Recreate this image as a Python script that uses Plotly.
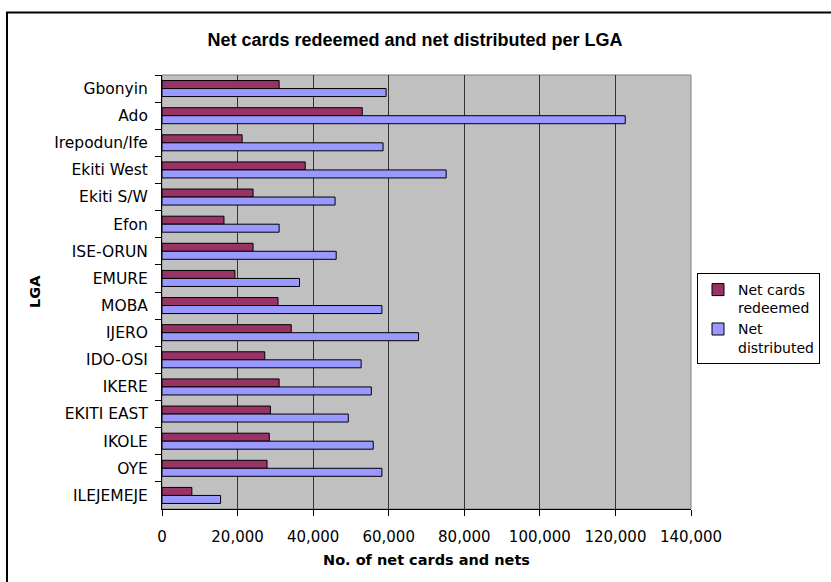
import plotly.graph_objects as go

# LGA names, top to bottom
lgas = ["Gbonyin", "Ado", "Irepodun/Ife", "Ekiti West", "Ekiti S/W", "Efon",
        "ISE-ORUN", "EMURE", "MOBA", "IJERO", "IDO-OSI", "IKERE",
        "EKITI EAST", "IKOLE", "OYE", "ILEJEMEJE"]

cards_redeemed = [31000, 53000, 21200, 37900, 24100, 16400,
                  24100, 19300, 30700, 34200, 27200, 31000,
                  28700, 28400, 27800, 7900]

nets_distributed = [59300, 122600, 58500, 75200, 45800, 31000,
                    46100, 36400, 58200, 67900, 52700, 55400,
                    49300, 55900, 58200, 15500]

x_ticks = [0, 20000, 40000, 60000, 80000, 100000, 120000, 140000]

W, H = 831, 582
L, R, T, B = 162, 140, 75, 73
pw, ph = W - L - R, H - T - B

FONT = "DejaVu Sans"

fig = go.Figure()
fig.add_trace(go.Bar(
    y=lgas, x=cards_redeemed, orientation="h", name="Net cards<br>redeemed",
    marker=dict(color="#993366", line=dict(color="#000000", width=1)),
))
fig.add_trace(go.Bar(
    y=lgas, x=nets_distributed, orientation="h", name="Net<br>distributed",
    marker=dict(color="#9999FF", line=dict(color="#000000", width=1)),
))


def px_x(v):
    return (v - L) / pw


def px_y(v):
    return 1 - (v - T) / ph


fig.update_layout(
    width=W, height=H,
    margin=dict(l=L, r=R, t=T, b=B, pad=0, autoexpand=False),
    paper_bgcolor="white",
    plot_bgcolor="#C0C0C0",
    barmode="group", bargap=0.41, bargroupgap=0,
    font=dict(family=FONT, size=15, color="black"),
    title=dict(
        text="<b>Net cards redeemed and net distributed per LGA</b>",
        x=415 / W, xref="container", xanchor="center",
        y=1 - 40 / H, yref="container", yanchor="middle",
        font=dict(family="Liberation Sans", size=18, color="black"),
    ),
    xaxis=dict(
        range=[0, 140000], tickvals=x_ticks, tickformat=",",
        showgrid=True, gridcolor="#333333", gridwidth=1,
        zeroline=False, showline=True, linecolor="black", linewidth=1,
        ticks="outside", ticklen=6, tickcolor="black",
        ticklabelstandoff=8,
        tickfont=dict(family=FONT, size=15),
    ),
    yaxis=dict(
        autorange="reversed", type="category",
        showgrid=False, showline=True, linecolor="black", linewidth=1,
        ticks="outside", ticklen=6, tickcolor="black", tickson="boundaries",
        ticklabelstandoff=10,
        tickfont=dict(family=FONT, size=15.5),
    ),
    legend=dict(
        xref="container", yref="container",
        x=697 / W, y=1 - 273 / H, xanchor="left", yanchor="top",
        bordercolor="black", borderwidth=1, bgcolor="white",
        font=dict(family=FONT, size=14),
        tracegroupgap=0, valign="top", itemwidth=30,
    ),
    annotations=[
        dict(text="<b>LGA</b>", x=px_x(35), y=0.5, xref="paper", yref="paper",
             textangle=-90, showarrow=False, xanchor="center", yanchor="middle",
             font=dict(family=FONT, size=14.5)),
        dict(text="<b>No. of net cards and nets</b>", x=0.5, y=px_y(560),
             xref="paper", yref="paper", showarrow=False,
             xanchor="center", yanchor="middle",
             font=dict(family=FONT, size=14.5)),
    ],
    shapes=[
        # outer chart frame
        dict(type="rect", xref="paper", yref="paper",
             x0=px_x(7), x1=px_x(W + 20), y0=px_y(H + 20), y1=px_y(12.5),
             line=dict(color="black", width=2), fillcolor="rgba(0,0,0,0)",
             layer="below"),
        # plot area top/right edge
        dict(type="rect", xref="paper", yref="paper", x0=0, x1=1, y0=0, y1=1,
             line=dict(color="#808080", width=1), fillcolor="rgba(0,0,0,0)",
             layer="below"),
    ],
)

fig.write_html("out.html")
